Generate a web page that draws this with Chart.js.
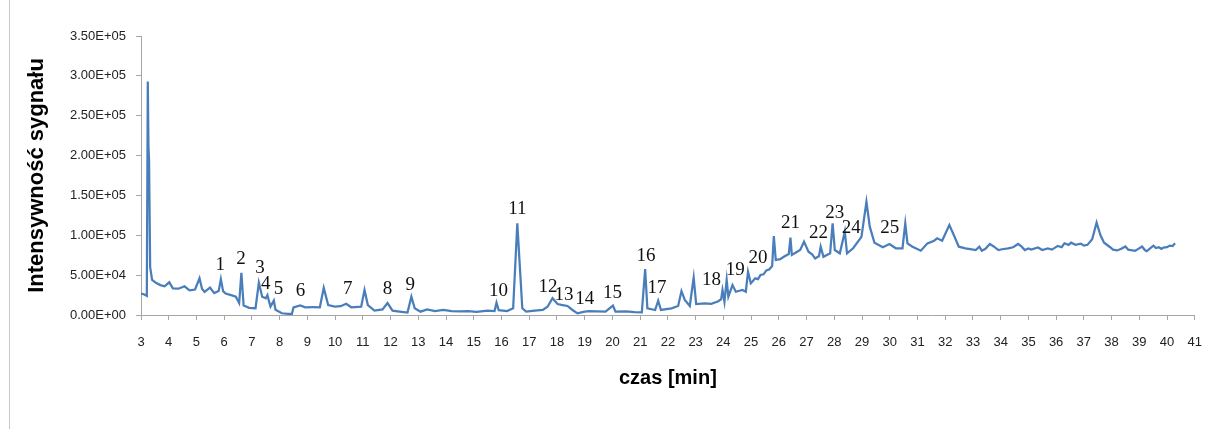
<!DOCTYPE html>
<html>
<head>
<meta charset="utf-8">
<script src="https://cdn.jsdelivr.net/npm/chart.js@4"></script>
<style>
  html, body { margin: 0; padding: 0; background: #fff; }
  #wrap { position: relative; width: 1217px; height: 429px; }
  #frame { position: absolute; left: 9px; top: 0; width: 1px; height: 429px; background: #c8c8c8; }
</style>
</head>
<body>
<div id="wrap">
  <div id="frame"></div>
  <canvas id="chart" width="1217" height="429"></canvas>
</div>
<script>
// --- Data ---
const times = [
  3.00, 3.10, 3.21, 3.245, 3.27, 3.29, 3.33, 3.40, 3.55, 3.70, 3.85, 4.02, 4.15, 4.35, 4.57, 4.75, 4.95,
  5.11, 5.20, 5.29, 5.49, 5.64, 5.80, 5.88, 5.96, 6.05, 6.25, 6.42, 6.54, 6.62, 6.70, 6.90, 7.13, 7.25,
  7.37, 7.50, 7.56, 7.61, 7.67, 7.79, 7.85, 8.08, 8.30, 8.44, 8.50, 8.74, 8.92, 9.20, 9.45, 9.59, 9.75,
  9.99, 10.20, 10.40, 10.58, 10.94, 11.06, 11.18, 11.42, 11.71, 11.89, 12.07, 12.40, 12.61, 12.75, 12.87,
  13.08, 13.32, 13.60, 13.90, 14.20, 14.50, 14.80, 15.10, 15.50, 15.75, 15.82, 15.90, 16.20, 16.42, 16.57,
  16.75, 16.89, 17.20, 17.49, 17.66, 17.84, 18.02, 18.20, 18.38, 18.56, 18.74, 18.95, 19.15, 19.45, 19.75,
  20.02, 20.11, 20.50, 20.80, 21.06, 21.18, 21.26, 21.54, 21.65, 21.75, 22.13, 22.37, 22.49, 22.61, 22.79,
  22.93, 23.02, 23.32, 23.56, 23.80, 23.92, 23.97, 24.04, 24.12, 24.18, 24.33, 24.45, 24.69, 24.81, 24.89,
  24.99, 25.05, 25.15, 25.25, 25.34, 25.45, 25.55, 25.65, 25.76, 25.82, 25.89, 26.05, 26.18, 26.36, 26.42,
  26.47, 26.60, 26.77, 26.91, 27.07, 27.20, 27.31, 27.45, 27.51, 27.61, 27.85, 27.94, 28.02, 28.20, 28.38,
  28.46, 28.68, 28.98, 29.16, 29.28, 29.45, 29.75, 29.99, 30.22, 30.46, 30.56, 30.64, 30.82, 31.12, 31.36,
  31.60, 31.71, 31.89, 32.15, 32.31, 32.49, 32.73, 32.96, 33.10, 33.23, 33.32, 33.45, 33.61, 33.75, 33.92,
  34.05, 34.27, 34.45, 34.63, 34.75, 34.87, 35.00, 35.10, 35.35, 35.50, 35.70, 35.85, 36.06, 36.20, 36.30,
  36.45, 36.54, 36.70, 36.89, 37.00, 37.13, 37.30, 37.46, 37.60, 37.73, 37.95, 38.05, 38.20, 38.35, 38.50,
  38.60, 38.70, 38.85, 38.92, 39.10, 39.20, 39.27, 39.40, 39.51, 39.60, 39.70, 39.80, 39.87, 40.00, 40.10,
  40.20, 40.29
];
const intensity = [
  27000, 26000, 24000, 293000, 210000, 195000, 60000, 44000, 40000, 37500, 36000, 41000, 33500, 33000, 36000, 31000, 32000,
  46000, 33000, 29000, 34500, 27500, 30000, 45000, 30000, 27000, 25000, 23000, 15000, 53000, 12000, 9000, 8500, 40500,
  23000, 21000, 25000, 18000, 10500, 18000, 6500, 2200, 1500, 1300, 9500, 12000, 9700, 9800, 9700, 34000, 12500,
  10500, 11000, 14000, 9700, 10500, 31500, 12500, 5500, 7000, 15000, 5500, 4000, 3000, 23000, 8400,
  4200, 7000, 5000, 6500, 5000, 4500, 4800, 4000, 5500, 5000, 15500, 6000, 5000, 8400, 115000,
  8400, 4200, 5500, 6300, 10400, 21000, 13800, 12500, 11300, 6300, 2100, 4000, 5000, 4500, 4200,
  11700, 4200, 4500, 3500, 3300, 57500, 8400, 6300, 18000, 6300, 8400, 11300, 30000, 18800, 11300,
  47000, 13800, 14700, 14000, 17000, 19700, 31400, 16700, 44000, 23000, 37600, 29200, 31400, 29200, 54300,
  39800, 42000, 46000, 45000, 50200, 51000, 56000, 57000, 61500, 99000, 69000, 70000, 73000, 76500, 97000,
  75300, 78000, 81500, 92000, 79400, 76000, 71000, 74000, 85700, 73000, 77400, 115000, 81500, 77400, 104500,
  77400, 83700, 98000, 142000, 110800, 90700, 84900, 89100, 83700, 83700, 115000, 89900, 85700, 80700, 89900,
  93200, 96200, 93200, 113000, 100400, 85700, 83700, 82400, 81500, 85700, 80700, 83000, 89100, 86000, 81500,
  82500, 83700, 85000, 89100, 86000, 81500, 83500, 82000, 84700, 81500, 83500, 82000, 86700, 85000, 90000,
  88000, 90700, 88000, 89500, 87000, 88000, 95000, 115800, 100000, 90700, 85000, 82000, 81000, 83000, 86000,
  82000, 81500, 80500, 82000, 86000, 81500, 80000, 84000, 87000, 84000, 85000, 83000, 84500, 85000, 87000,
  86500, 90000
];

// Peak numbers and where their labels sit (time, intensity)
const peakNumbers = ['1','2','3','4','5','6','7','8','9','10','11','12','13','14','15','16','17','18','19','20','21','22','23','24','25'];
const peakLabelTimes = [5.86, 6.61, 7.29, 7.50, 7.96, 8.75, 10.46, 11.89, 12.71, 15.89, 16.57, 17.68, 18.25, 19.00, 20.00,
  21.21, 21.61, 23.57, 24.43, 25.25, 26.42, 27.43, 28.02, 28.61, 30.00];
const peakLabelValues = [62700, 70300, 58900, 38900, 32200, 30500, 32200, 32200, 37600, 30100, 133000, 35500, 25100, 20100, 27200,
  74000, 33500, 43900, 56400, 71900, 115000, 102900, 128000, 109100, 109100];

// Axis ticks
const xTicks = { min: 3, max: 41, step: 1 };
const yTicks = { min: 0, max: 350000, step: 50000 };

// --- Helpers ---
function sciLabel(v) {
    // Excel-like 0.00E+00
    if (v === 0) return '0.00E+00';
    const exp = Math.floor(Math.log10(Math.abs(v)));
    const mant = v / Math.pow(10, exp);
    const sign = exp < 0 ? '-' : '+';
    const e = String(Math.abs(exp)).padStart(2, '0');
    return mant.toFixed(2) + 'E' + sign + e;
}

const peakLabelPlugin = {
    id: 'peakLabels',
    afterDatasetsDraw(chart) {
        const { ctx, scales } = chart;
        ctx.save();
        ctx.font = '19px "Liberation Serif", "Times New Roman", serif';
        ctx.fillStyle = '#111';
        ctx.textAlign = 'center';
        ctx.textBaseline = 'middle';
        peakNumbers.forEach((label, i) => {
            const px = scales.x.getPixelForValue(peakLabelTimes[i]);
            const py = scales.y.getPixelForValue(peakLabelValues[i]);
            ctx.fillText(label, px, py);
        });
        ctx.restore();
    }
};

const axisColor = '#a6a6a6';
const tickFont = { family: '"Liberation Sans", Arial, sans-serif', size: 13 };

new Chart(document.getElementById('chart').getContext('2d'), {
    type: 'line',
    data: {
        datasets: [{
            data: times.map((t, i) => ({ x: t, y: intensity[i] })),
            borderColor: '#4a7ebb',
            borderWidth: 2.25,
            pointRadius: 0,
            tension: 0,
            fill: false
        }]
    },
    options: {
        responsive: false,
        animation: false,
        layout: { padding: { top: 36, right: 12, left: 0, bottom: 0 } },
        plugins: {
            legend: { display: false },
            tooltip: { enabled: false }
        },
        scales: {
            x: {
                type: 'linear',
                min: xTicks.min,
                max: xTicks.max,
                grid: { drawOnChartArea: false, color: axisColor, tickLength: 5, tickColor: axisColor },
                border: { color: axisColor, width: 1 },
                ticks: {
                    stepSize: xTicks.step,
                    color: '#222',
                    font: tickFont,
                    padding: 15,
                    maxRotation: 0,
                    autoSkip: false
                },
                title: {
                    display: true,
                    text: 'czas [min]',
                    color: '#000',
                    font: { family: '"Liberation Sans", Arial, sans-serif', size: 20, weight: 'bold' },
                    padding: { top: 0, bottom: 39 }
                },
                afterFit(scale) { scale.height = 114; }
            },
            y: {
                min: yTicks.min,
                max: yTicks.max,
                grid: { drawOnChartArea: false, color: axisColor, tickLength: 5, tickColor: axisColor },
                border: { color: axisColor, width: 1 },
                ticks: {
                    stepSize: yTicks.step,
                    color: '#222',
                    font: tickFont,
                    padding: 10,
                    callback: (v) => sciLabel(v)
                },
                title: {
                    display: true,
                    text: 'Intensywność sygnału',
                    color: '#000',
                    font: { family: '"Liberation Sans", Arial, sans-serif', size: 22, weight: 'bold' },
                    padding: { top: 24, bottom: 0 }
                },
                afterFit(scale) { scale.width = 141; }
            }
        }
    },
    plugins: [peakLabelPlugin]
});
</script>
</body>
</html>
